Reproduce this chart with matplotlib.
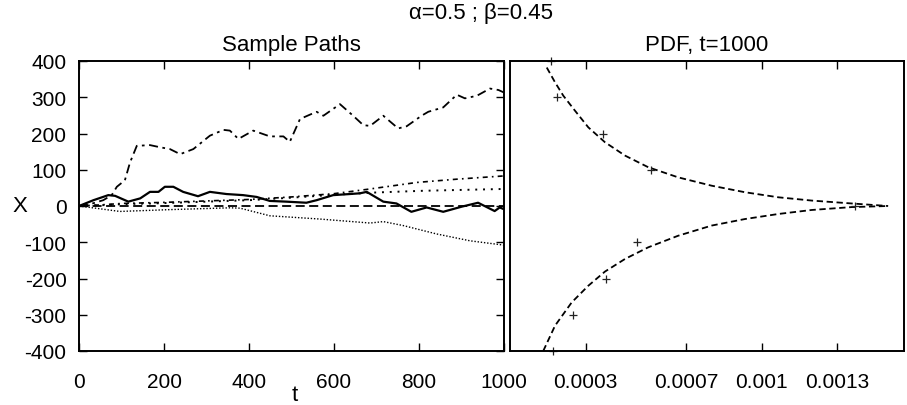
import matplotlib
matplotlib.use("Agg")
import matplotlib.pyplot as plt

plt.rcParams['font.family'] = ['Liberation Sans', 'DejaVu Sans']
plt.rcParams['font.size'] = 15
plt.rcParams['xtick.labelsize'] = 15
plt.rcParams['ytick.labelsize'] = 15
plt.rcParams['axes.unicode_minus'] = False

# ---- left panel: sample paths (t, X) ----
path_dashdot_t = [0, 26, 57, 77, 89, 108, 120, 136, 167, 191, 214, 238, 269, 308, 340, 355, 375,
                  410, 449, 481, 496, 520, 559, 575, 614, 645, 669, 685, 716, 751, 771, 806, 822,
                  857, 889, 908, 936, 967, 987, 1000]
path_dashdot_x = [0, 5, 16, 30, 53, 71, 120, 166, 168, 162, 157, 143, 157, 194, 210, 208, 185,
                  208, 192, 192, 177, 240, 260, 249, 281, 249, 223, 221, 249, 214, 220, 249, 260,
                  272, 307, 297, 304, 324, 320, 313]

path_solid_t = [0, 34, 69, 85, 116, 144, 167, 187, 202, 222, 245, 280, 308, 347, 386, 418, 449,
                488, 535, 559, 598, 637, 661, 677, 716, 747, 782, 818, 857, 900, 939, 978, 990, 1000]
path_solid_x = [0, 16, 30, 28, 12, 21, 39, 39, 53, 53, 39, 27, 39, 33, 30, 25, 14,
                12, 9, 16, 30, 33, 35, 39, 12, 7, -16, -4, -16, -2, 9, -14, -4, -9]

mean_t = [0, 1000]
mean_x = [0, 0]

upper1_t = [0, 50, 100, 200, 300, 400, 500, 600, 685, 795, 889, 1000]
upper1_x = [0, 3, 7, 10, 14, 18, 25, 34, 47, 65, 74, 83]

upper2_t = [0, 50, 100, 200, 300, 400, 500, 600, 692, 810, 1000]
upper2_x = [0, 2, 5, 8, 12, 16, 23, 31, 37, 42, 47]

lower_t = [0, 26, 96, 214, 355, 379, 449, 567, 685, 716, 763, 841, 920, 1000]
lower_x = [0, -4, -15, -10, -5, -6, -27, -36, -47, -43, -54, -77, -96, -108]

# ---- right panel: PDF at t=1000 (density, X) ----
fit_upper_p = [0.000146, 0.000179, 0.000212, 0.000258, 0.000311, 0.000377, 0.000457, 0.000549,
               0.000668, 0.000801, 0.000933, 0.001066, 0.001198, 0.001357, 0.001502]
fit_upper_x = [382, 341, 304, 263, 217, 176, 139, 107, 79, 56, 38, 24, 15, 7, 0]
fit_lower_p = [0.000132, 0.000179, 0.000245, 0.000311, 0.000377, 0.000457, 0.000549, 0.000668,
               0.000801, 0.000933, 0.001066, 0.001198, 0.001357, 0.001502]
fit_lower_x = [-400, -330, -266, -220, -181, -146, -114, -82, -54, -36, -22, -11, -3, 0]

hist_x = [400, 300, 200, 100, 0, -100, -200, -300, -400]
hist_p = [0.000162, 0.000185, 0.000368, 0.00056, 0.00137, 0.000503, 0.00038, 0.000252, 0.000172]

left_xticks = [0, 200, 400, 600, 800, 1000]
yticks = [-400, -300, -200, -100, 0, 100, 200, 300, 400]
right_xticks = [0.0003, 0.0007, 0.001, 0.0013]
right_xticklabels = ['0.0003', '0.0007', '0.001', '0.0013']

W, H = 907, 406
fig = plt.figure(figsize=(W / 100, H / 100), dpi=100)
ax1 = fig.add_axes([79 / W, 54 / H, 425 / W, 290 / H])
ax2 = fig.add_axes([510 / W, 54 / H, 394 / W, 290 / H])

k = 'black'
ax1.plot(path_dashdot_t, path_dashdot_x, color=k, lw=1.3, dashes=(5, 2.5, 1.5, 2.5))
ax1.plot(path_solid_t, path_solid_x, color=k, lw=1.6)
ax1.plot(mean_t, mean_x, color=k, lw=1.3, dashes=(5, 2.5))
ax1.plot(upper1_t, upper1_x, color=k, lw=1.2, dashes=(3, 2.5, 1, 2.5))
ax1.plot(upper2_t, upper2_x, color=k, lw=1.4, dashes=(1, 3))
ax1.plot(lower_t, lower_x, color=k, lw=1.0, dashes=(1, 1.3))

ax1.set_xlim(0, 1000)
ax1.set_ylim(-400, 400)
ax1.set_xticks(left_xticks)
ax1.set_yticks(yticks)
ax1.tick_params(direction='in', length=6, width=1, top=True, right=True)
ax1.tick_params(axis='x', pad=15)
ax1.tick_params(axis='y', pad=9)
ax1.set_title('Sample Paths', pad=8, fontsize=16)

ax2.plot(fit_upper_p, fit_upper_x, color=k, lw=1.3, dashes=(3.5, 2))
ax2.plot(fit_lower_p, fit_lower_x, color=k, lw=1.3, dashes=(3.5, 2))
ax2.plot(hist_p, hist_x, linestyle='none', marker='+', ms=6, mew=0.9, color='#222222', clip_on=False)
ax2.set_xlim(0, 0.001565)
ax2.set_ylim(-400, 400)
ax2.set_xticks(right_xticks)
ax2.set_xticklabels(right_xticklabels)
ax2.set_yticks([])
ax2.tick_params(direction='in', length=6, width=1, top=True)
ax2.tick_params(axis='x', pad=15)
ax2.set_title('PDF, t=1000', pad=8, fontsize=16)

for ax in (ax1, ax2):
    for s in ax.spines.values():
        s.set_linewidth(1.4)

fig.text(20 / W, 1 - 207 / H, 'X', ha='center', va='center', fontsize=16)
fig.text(295 / W, 1 - 396 / H, 't', ha='center', va='center', fontsize=16)
fig.text(481 / W, 1 - 13 / H, 'α=0.5 ; β=0.45', ha='center', va='center', fontsize=16)

fig.savefig('out.png', dpi=100)
